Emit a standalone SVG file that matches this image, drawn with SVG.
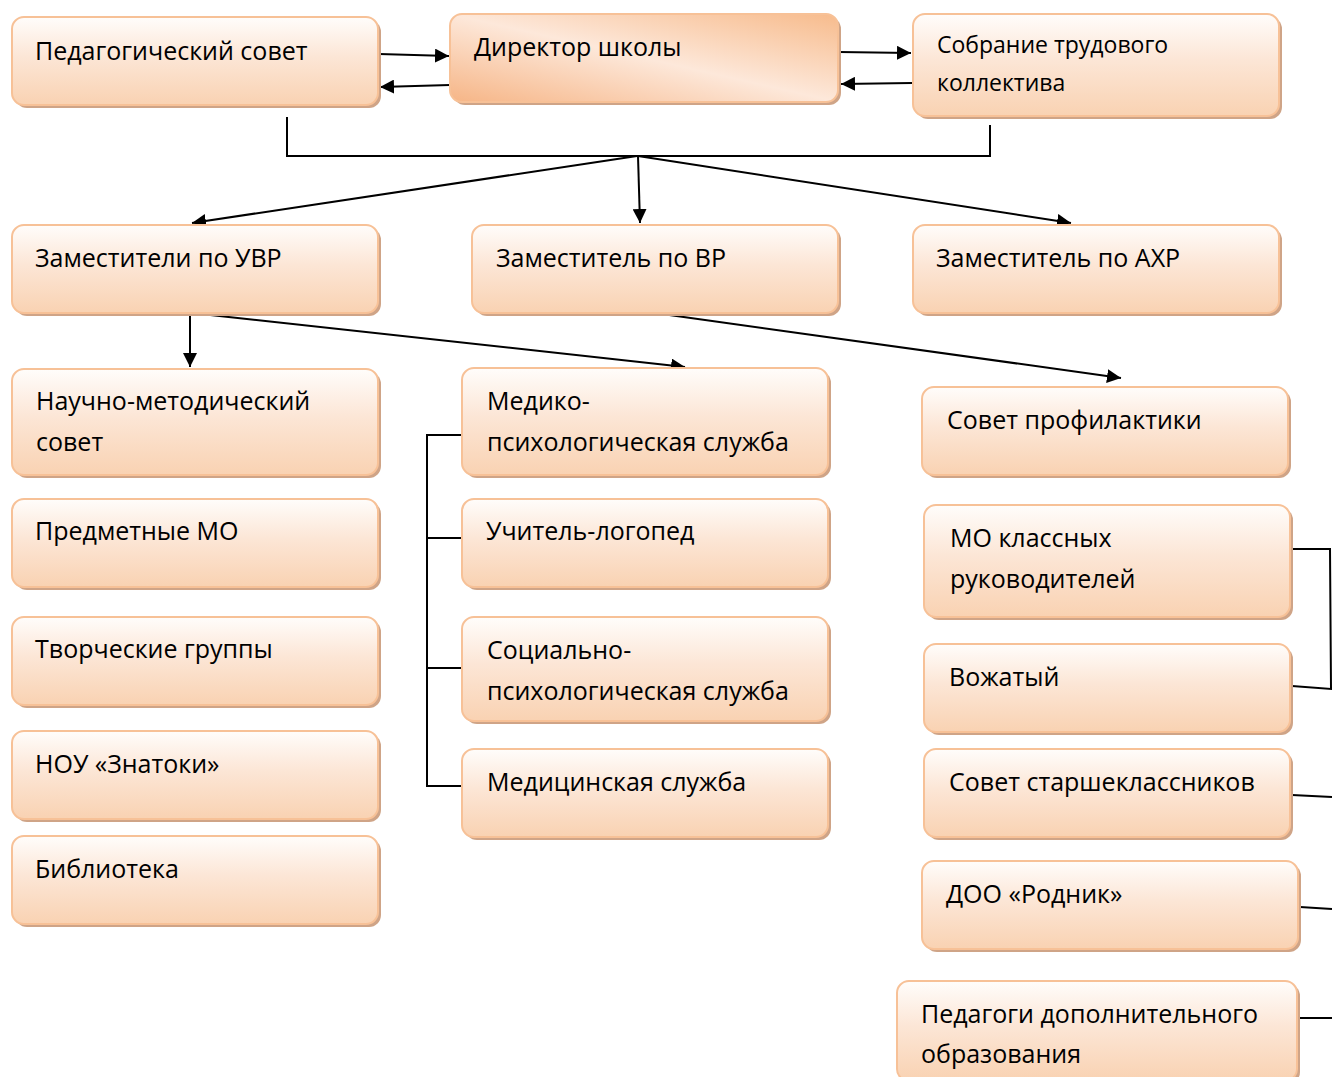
<svg xmlns="http://www.w3.org/2000/svg" width="1332" height="1077" viewBox="0 0 1332 1077">
<defs>
<linearGradient id="g" x1="0" y1="0" x2="0" y2="1">
<stop offset="0" stop-color="#fffdfb"/>
<stop offset="0.45" stop-color="#fce6d6"/>
<stop offset="1" stop-color="#f9d2b2"/>
</linearGradient>
<linearGradient id="gd" x1="0" y1="1" x2="1" y2="0">
<stop offset="0" stop-color="#f6b586"/>
<stop offset="0.5" stop-color="#fde8da"/>
<stop offset="1" stop-color="#f7bb8c"/>
</linearGradient>
<marker id="ahb" viewBox="0 0 10 10" refX="10" refY="5" markerWidth="14" markerHeight="14" markerUnits="userSpaceOnUse" orient="auto">
<path d="M0,0 L10,5 L0,10 z" fill="#000"/>
</marker>
</defs>
<style>
.sh{fill:#cfa487;}
.bx{fill:url(#g);stroke:#f7c197;stroke-width:2;}
.bd{fill:url(#gd);stroke:#f7c197;stroke-width:2;}
text{font-family:"Open Sans","Noto Sans","DejaVu Sans",sans-serif;font-size:25px;fill:#000;}
.sm{font-size:23px;}
.ln{fill:none;stroke:#000;stroke-width:2;}
</style>
<rect width="1332" height="1077" fill="#fff"/>
<g id="connectors">
<line class="ln" x1="379" y1="54" x2="449" y2="56" marker-end="url(#ahb)"/>
<line class="ln" x1="450" y1="85" x2="380" y2="87" marker-end="url(#ahb)"/>
<line class="ln" x1="839" y1="52" x2="911" y2="53" marker-end="url(#ahb)"/>
<line class="ln" x1="912" y1="83" x2="841" y2="84" marker-end="url(#ahb)"/>
<polyline class="ln" points="287,117 287,156 990,156 990,125"/>
<line class="ln" x1="637" y1="156" x2="192" y2="223" marker-end="url(#ahb)"/>
<line class="ln" x1="638" y1="156" x2="640" y2="223" marker-end="url(#ahb)"/>
<line class="ln" x1="638" y1="156" x2="1071" y2="223" marker-end="url(#ahb)"/>
<line class="ln" x1="190" y1="315" x2="190" y2="367" marker-end="url(#ahb)"/>
<line class="ln" x1="192" y1="313" x2="685" y2="367" marker-end="url(#ahb)"/>
<line class="ln" x1="655" y1="313" x2="1121" y2="378" marker-end="url(#ahb)"/>
<polyline class="ln" points="462,435 427,435 427,786 462,786"/>
<line class="ln" x1="427" y1="538" x2="462" y2="538"/>
<line class="ln" x1="427" y1="668" x2="462" y2="668"/>
<polyline class="ln" points="1292,549 1330,549 1331,689 1292,686"/>
<line class="ln" x1="1292" y1="795" x2="1332" y2="797"/>
<line class="ln" x1="1300" y1="907" x2="1332" y2="909"/>
<line class="ln" x1="1300" y1="1018" x2="1332" y2="1018"/>
</g>
<g id="n-pedsovet"><rect class="sh" x="15" y="20" width="366" height="88" rx="12"/><rect class="bx" x="12" y="17" width="366" height="88" rx="12"/><text x="35" y="60">Педагогический совет</text></g>
<g id="n-director"><rect class="sh" x="453" y="17" width="388" height="88" rx="12"/><rect class="bd" x="450" y="14" width="388" height="88" rx="12"/><text x="474" y="56">Директор школы</text></g>
<g id="n-sobranie"><rect class="sh" x="916" y="17" width="366" height="102" rx="12"/><rect class="bx" x="913" y="14" width="366" height="102" rx="12"/><text class="sm" x="937" y="53">Собрание трудового</text><text class="sm" x="937" y="91">коллектива</text></g>
<g id="n-uvr"><rect class="sh" x="15" y="228" width="366" height="88" rx="12"/><rect class="bx" x="12" y="225" width="366" height="88" rx="12"/><text x="35" y="267">Заместители по УВР</text></g>
<g id="n-vr"><rect class="sh" x="475" y="228" width="366" height="88" rx="12"/><rect class="bx" x="472" y="225" width="366" height="88" rx="12"/><text x="496" y="267">Заместитель по ВР</text></g>
<g id="n-ahr"><rect class="sh" x="916" y="228" width="366" height="88" rx="12"/><rect class="bx" x="913" y="225" width="366" height="88" rx="12"/><text x="936" y="267">Заместитель по АХР</text></g>
<g id="n-nms"><rect class="sh" x="15" y="372" width="366" height="106" rx="12"/><rect class="bx" x="12" y="369" width="366" height="106" rx="12"/><text x="36" y="410">Научно-методический</text><text x="36" y="451">совет</text></g>
<g id="n-pmo"><rect class="sh" x="15" y="502" width="366" height="88" rx="12"/><rect class="bx" x="12" y="499" width="366" height="88" rx="12"/><text x="35" y="540">Предметные МО</text></g>
<g id="n-tg"><rect class="sh" x="15" y="620" width="366" height="88" rx="12"/><rect class="bx" x="12" y="617" width="366" height="88" rx="12"/><text x="35" y="658">Творческие группы</text></g>
<g id="n-nou"><rect class="sh" x="15" y="734" width="366" height="88" rx="12"/><rect class="bx" x="12" y="731" width="366" height="88" rx="12"/><text x="35" y="773">НОУ «Знатоки»</text></g>
<g id="n-lib"><rect class="sh" x="15" y="839" width="366" height="88" rx="12"/><rect class="bx" x="12" y="836" width="366" height="88" rx="12"/><text x="35" y="878">Библиотека</text></g>
<g id="n-mps"><rect class="sh" x="465" y="371" width="366" height="107" rx="12"/><rect class="bx" x="462" y="368" width="366" height="107" rx="12"/><text x="487" y="410">Медико-</text><text x="487" y="451">психологическая служба</text></g>
<g id="n-logo"><rect class="sh" x="465" y="502" width="366" height="88" rx="12"/><rect class="bx" x="462" y="499" width="366" height="88" rx="12"/><text x="486" y="540">Учитель-логопед</text></g>
<g id="n-sps"><rect class="sh" x="465" y="620" width="366" height="104" rx="12"/><rect class="bx" x="462" y="617" width="366" height="104" rx="12"/><text x="487" y="659">Социально-</text><text x="487" y="700">психологическая служба</text></g>
<g id="n-med"><rect class="sh" x="465" y="752" width="366" height="88" rx="12"/><rect class="bx" x="462" y="749" width="366" height="88" rx="12"/><text x="487" y="791">Медицинская служба</text></g>
<g id="n-sp"><rect class="sh" x="925" y="390" width="366" height="88" rx="12"/><rect class="bx" x="922" y="387" width="366" height="88" rx="12"/><text x="947" y="429">Совет профилактики</text></g>
<g id="n-mokr"><rect class="sh" x="927" y="508" width="366" height="112" rx="12"/><rect class="bx" x="924" y="505" width="366" height="112" rx="12"/><text x="950" y="547">МО классных</text><text x="950" y="588">руководителей</text></g>
<g id="n-voz"><rect class="sh" x="927" y="647" width="366" height="88" rx="12"/><rect class="bx" x="924" y="644" width="366" height="88" rx="12"/><text x="949" y="686">Вожатый</text></g>
<g id="n-ssk"><rect class="sh" x="927" y="752" width="366" height="88" rx="12"/><rect class="bx" x="924" y="749" width="366" height="88" rx="12"/><text x="949" y="791">Совет старшеклассников</text></g>
<g id="n-doo"><rect class="sh" x="925" y="864" width="376" height="88" rx="12"/><rect class="bx" x="922" y="861" width="376" height="88" rx="12"/><text x="946" y="903">ДОО «Родник»</text></g>
<g id="n-pdo"><rect class="sh" x="900" y="984" width="400" height="100" rx="12"/><rect class="bx" x="897" y="981" width="400" height="100" rx="12"/><text x="921" y="1023">Педагоги дополнительного</text><text x="921" y="1063">образования</text></g>
</svg>
